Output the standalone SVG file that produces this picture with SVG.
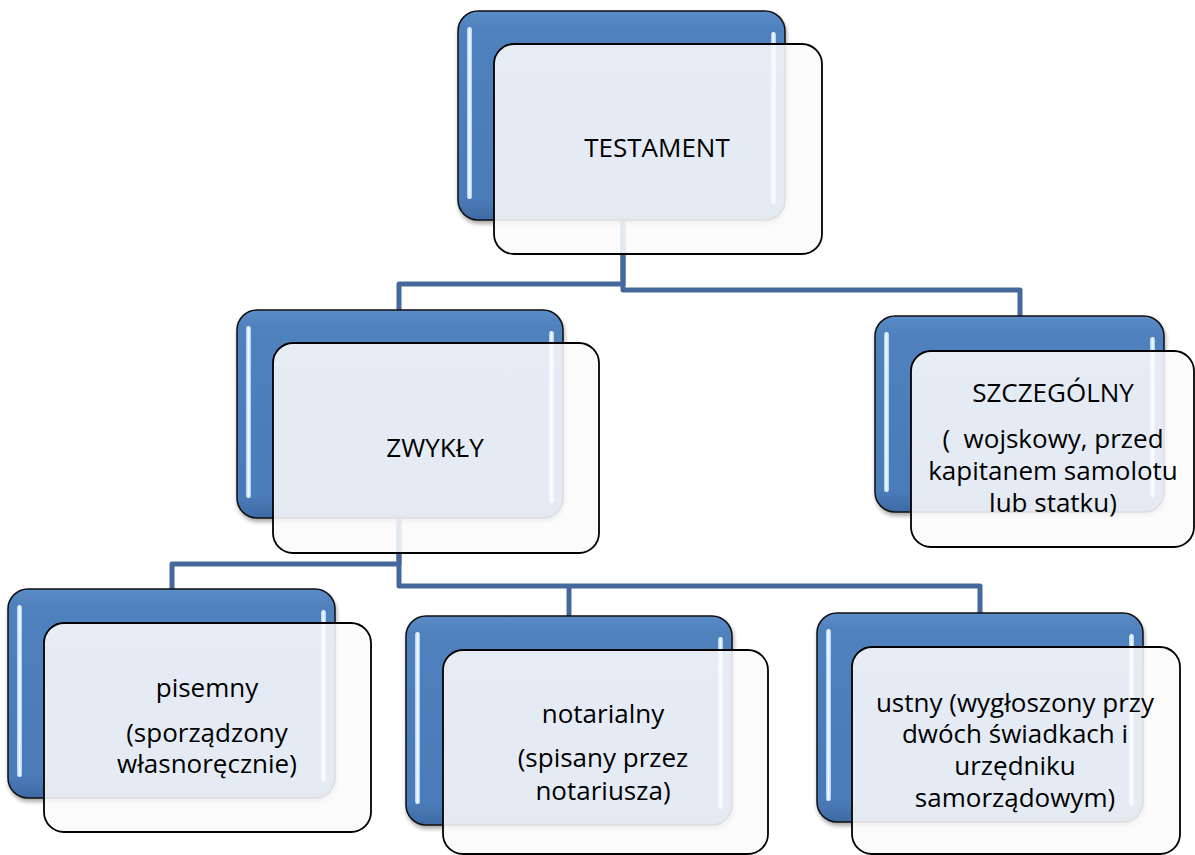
<svg xmlns="http://www.w3.org/2000/svg" width="1195" height="855" viewBox="0 0 1195 855">
<defs>
<linearGradient id="blueG" x1="0" y1="0" x2="0" y2="1">
<stop offset="0" stop-color="#5b8cc8"/>
<stop offset="0.08" stop-color="#4f81bd"/>
<stop offset="0.9" stop-color="#4a7bb8"/>
<stop offset="1" stop-color="#3e6aa3"/>
</linearGradient>
<linearGradient id="stripG" x1="0" y1="0" x2="1" y2="0">
<stop offset="0" stop-color="#a9cdf5"/>
<stop offset="0.5" stop-color="#f4faff"/>
<stop offset="1" stop-color="#a9cdf5"/>
</linearGradient>
<filter id="sh" x="-5%" y="-5%" width="115%" height="115%">
<feGaussianBlur in="SourceAlpha" stdDeviation="2"/>
<feOffset dx="1" dy="3"/>
<feComponentTransfer><feFuncA type="linear" slope="0.35"/></feComponentTransfer>
<feMerge><feMergeNode/><feMergeNode in="SourceGraphic"/></feMerge>
</filter>
</defs>
<style>
.back{fill:url(#blueG);stroke:#111;stroke-width:1.5;filter:url(#sh)}
.strip{fill:url(#stripG)}
.front{fill:#fbfbfc;fill-opacity:0.88;stroke:#000;stroke-width:1.8}
.conn{fill:none;stroke:#46699c;stroke-width:5;stroke-linejoin:round}
text{font-family:"Open Sans","Liberation Sans",sans-serif;font-size:26px;fill:#000;text-anchor:middle}
</style>

<g id="connectors">
<path class="conn" d="M623,220 V284 H399 V311"/>
<path class="conn" d="M623,220 V290 H1020 V317"/>
<path class="conn" d="M399,518 V564 H172 V589"/>
<path class="conn" d="M399,518 V586 H980 V614"/>
<path class="conn" d="M569,586 V616"/>
</g>

<g id="node-testament">
<rect class="back" x="458" y="11" width="327" height="209" rx="20"/>
<rect class="strip" x="467" y="27" width="5" height="172" rx="2.5"/>
<rect class="strip" x="771" y="32" width="5" height="172" rx="2.5"/>
<rect class="front" x="494" y="44" width="328" height="210" rx="20"/>
<text x="657" y="157">TESTAMENT</text>
</g>

<g id="node-zwykly">
<rect class="back" x="237" y="310" width="326" height="208" rx="20"/>
<rect class="strip" x="246" y="326" width="5" height="172" rx="2.5"/>
<rect class="strip" x="549" y="331" width="5" height="172" rx="2.5"/>
<rect class="front" x="273" y="343" width="326" height="210" rx="20"/>
<text x="435" y="457">ZWYKŁY</text>
</g>

<g id="node-szczegolny">
<rect class="back" x="875" y="316" width="289" height="196" rx="20"/>
<rect class="strip" x="884" y="332" width="5" height="160" rx="2.5"/>
<rect class="strip" x="1150" y="337" width="5" height="160" rx="2.5"/>
<rect class="front" x="911" y="351" width="283" height="196" rx="20"/>
<text x="1053" y="402">SZCZEGÓLNY</text>
<text x="1053" y="448" xml:space="preserve">(  wojskowy, przed</text>
<text x="1053" y="480">kapitanem samolotu</text>
<text x="1053" y="512">lub statku)</text>
</g>

<g id="node-pisemny">
<rect class="back" x="8" y="589" width="327" height="209" rx="20"/>
<rect class="strip" x="17" y="605" width="5" height="172" rx="2.5"/>
<rect class="strip" x="321" y="610" width="5" height="172" rx="2.5"/>
<rect class="front" x="44" y="623" width="327" height="209" rx="20"/>
<text x="207" y="697">pisemny</text>
<text x="207" y="742">(sporządzony</text>
<text x="207" y="773">własnoręcznie)</text>
</g>

<g id="node-notarialny">
<rect class="back" x="406" y="616" width="326" height="209" rx="20"/>
<rect class="strip" x="415" y="632" width="5" height="172" rx="2.5"/>
<rect class="strip" x="718" y="637" width="5" height="172" rx="2.5"/>
<rect class="front" x="443" y="650" width="325" height="204" rx="20"/>
<text x="603" y="723">notarialny</text>
<text x="603" y="767">(spisany przez</text>
<text x="603" y="800">notariusza)</text>
</g>

<g id="node-ustny">
<rect class="back" x="817" y="613" width="326" height="209" rx="20"/>
<rect class="strip" x="826" y="629" width="5" height="172" rx="2.5"/>
<rect class="strip" x="1129" y="634" width="5" height="172" rx="2.5"/>
<rect class="front" x="852" y="647" width="328" height="207" rx="20"/>
<text x="1015" y="712">ustny (wygłoszony przy</text>
<text x="1015" y="743">dwóch świadkach i</text>
<text x="1015" y="775">urzędniku</text>
<text x="1015" y="807">samorządowym)</text>
</g>
</svg>
